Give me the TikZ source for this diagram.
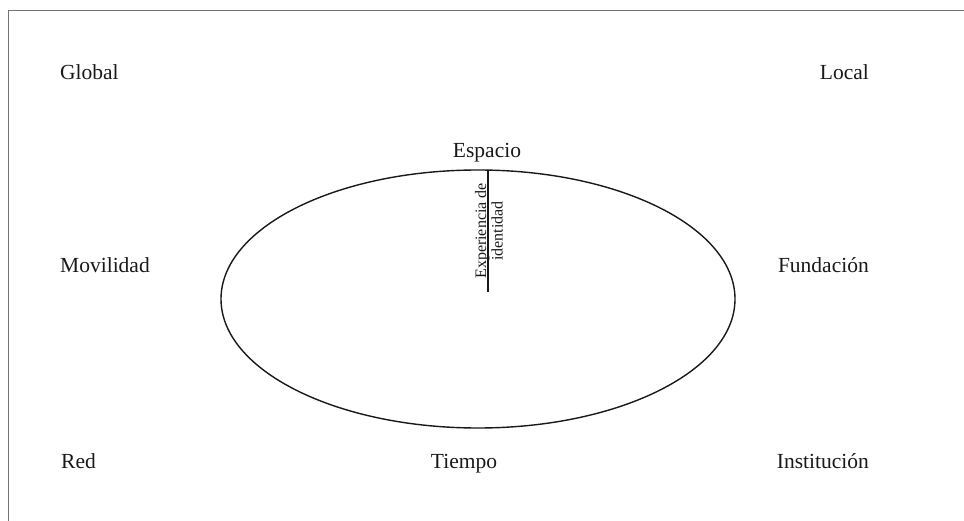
\documentclass[tikz,border=0pt]{standalone}
\usepackage{fontspec}
\setmainfont{Liberation Serif}
\usetikzlibrary{shapes.geometric}
\begin{document}
\begin{tikzpicture}[x=1pt,y=-1pt,
  lbl/.style={font=\fontsize{21.5}{25}\selectfont, inner sep=0pt, text=black!90},
  vlbl/.style={font=\fontsize{16}{19}\selectfont, inner sep=0pt, rotate=90, text=black!90},
  frameline/.style={draw=black!55, line width=1pt},
  ovalstyle/.style={draw=black!90, line width=1.4pt, ellipse, inner sep=0pt, minimum width=514pt, minimum height=258pt},
  axis/.style={draw=black!90, line width=1.1pt}]
\useasboundingbox (0,0) rectangle (964,521);
\coordinate (fa) at (8,540);
\coordinate (fb) at (8,10.5);
\coordinate (fc) at (980,10.5);
\draw[frameline] (fa) -- (fb) -- (fc);
\node[ovalstyle] (oval) at (478,299) {};
\coordinate (top) at (488,170.3);
\coordinate (bot) at (488,292);
\draw[axis] (top) -- (bot);
\node[vlbl, anchor=base] (exp) at (486,231) {Experiencia de};
\node[vlbl, anchor=base] (ident) at (502.5,231) {identidad};
\node[lbl, anchor=base] (espacio) at (487,158) {Espacio};
\node[lbl, anchor=base] (tiempo) at (464,468) {Tiempo};
\node[lbl, anchor=base west] (global) at (60,80) {Global};
\node[lbl, anchor=base east] (local) at (869,80) {Local};
\node[lbl, anchor=base west] (movilidad) at (60,273) {Movilidad};
\node[lbl, anchor=base east] (fundacion) at (869,273) {Fundación};
\node[lbl, anchor=base west] (red) at (61,468) {Red};
\node[lbl, anchor=base east] (institucion) at (869,468) {Institución};
\end{tikzpicture}
\end{document}
